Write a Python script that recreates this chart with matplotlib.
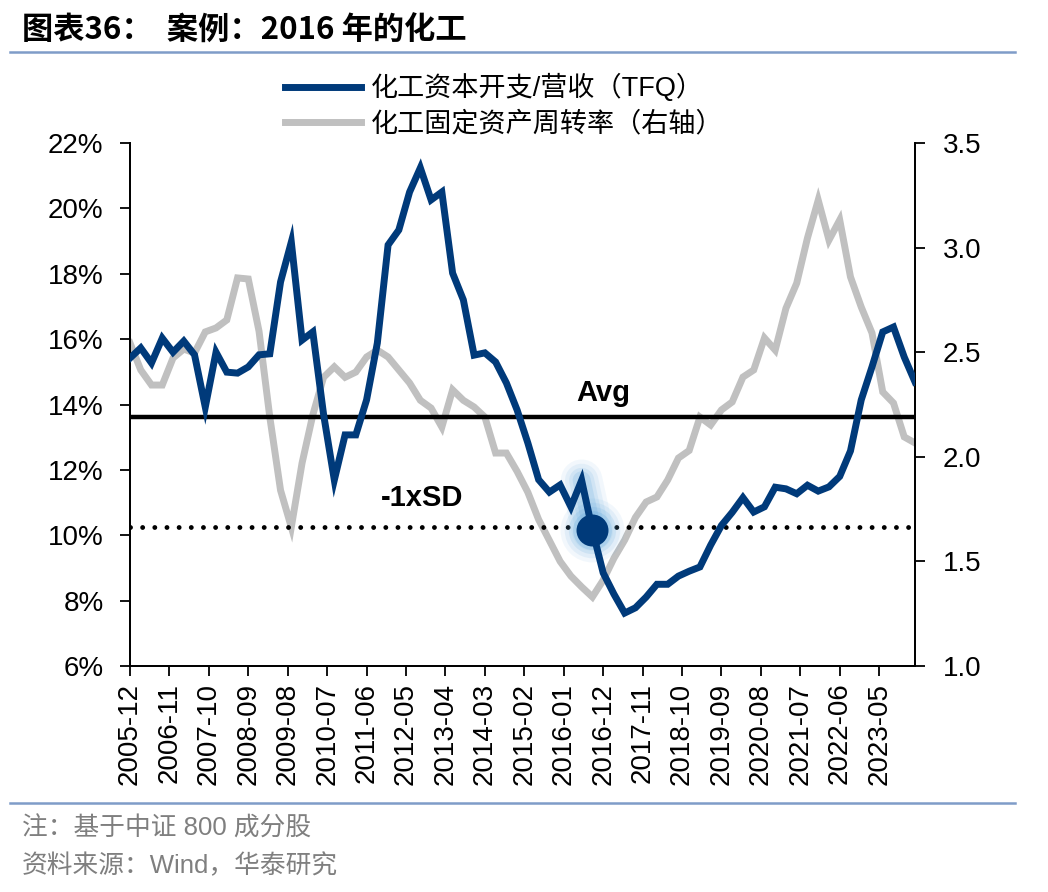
import numpy as np
import matplotlib.pyplot as plt
from matplotlib.ticker import FuncFormatter
from matplotlib.lines import Line2D

plt.rcParams['font.family'] = ['Liberation Sans', 'Noto Sans CJK SC']

# quarterly data, 2005-12 .. 2024-03
capex = [15.42, 15.73, 15.27, 16.03, 15.6, 15.94, 15.52, 13.92, 15.6, 14.99,
         14.96, 15.15, 15.52, 15.55, 17.75, 18.97, 15.97, 16.22, 13.7, 11.69,
         13.07, 13.07, 14.14, 15.88, 18.88, 19.34, 20.5, 21.24, 20.26, 20.5,
         18.02, 17.2, 15.51, 15.58, 15.3, 14.66, 13.83, 12.82, 11.7, 11.32,
         11.54, 10.87, 11.68, 10.16, 8.85, 8.2, 7.62, 7.78, 8.11, 8.5,
         8.5, 8.75, 8.9, 9.03, 9.7, 10.3, 10.7, 11.15, 10.71, 10.87,
         11.47, 11.42, 11.27, 11.53, 11.35, 11.48, 11.8, 12.58, 14.14, 15.15,
         16.22, 16.37, 15.45, 14.69]
turnover = [2.544, 2.415, 2.343, 2.343, 2.472, 2.515, 2.496, 2.597, 2.616, 2.654,
            2.855, 2.85, 2.6, 2.19, 1.84, 1.664, 1.97, 2.2, 2.38, 2.43,
            2.38, 2.405, 2.477, 2.51, 2.477, 2.415, 2.353, 2.27, 2.233, 2.142,
            2.32, 2.27, 2.238, 2.19, 2.018, 2.018, 1.93, 1.83, 1.70, 1.60,
            1.50, 1.43, 1.378, 1.33, 1.41, 1.515, 1.602, 1.71, 1.784, 1.808,
            1.889, 1.994, 2.03, 2.19, 2.152, 2.224, 2.262, 2.381, 2.415, 2.568,
            2.51, 2.71, 2.83, 3.046, 3.227, 3.036, 3.132, 2.86, 2.716, 2.592,
            2.31, 2.257, 2.095, 2.066]
avg = 13.62
minus_sd = 10.25
highlight = 43  # 2016-09

tick_labels = ['2005-12', '2006-11', '2007-10', '2008-09', '2009-08', '2010-07',
               '2011-06', '2012-05', '2013-04', '2014-03', '2015-02', '2016-01',
               '2016-12', '2017-11', '2018-10', '2019-09', '2020-08', '2021-07',
               '2022-06', '2023-05']

blue = '#003A7A'
grey = '#C0C0C0'

x = np.arange(len(capex)) * 3  # months since 2005-12
tick_pos = np.arange(len(tick_labels)) * 11

fig = plt.figure(figsize=(10.48, 8.92), dpi=100)
ax = fig.add_axes([130 / 1048, 1 - 666 / 892, 785 / 1048, 523 / 892])
ax2 = ax.twinx()

ax2.plot(x, turnover, color=grey, lw=5, solid_joinstyle='miter', zorder=2)
ax2.set_ylim(1.0, 3.5)
ax2.set_yticks(np.arange(1.0, 3.51, 0.5))
ax2.yaxis.set_major_formatter(FuncFormatter(lambda v, p: f'{v:.1f}'))

ax.set_zorder(ax2.get_zorder() + 1)
ax.patch.set_visible(False)

ax.axhline(avg, color='black', lw=3.2, zorder=3)
ax.axhline(minus_sd, xmax=0.993, color='black', lw=3.5,
           dashes=(0.001, 2.5), dash_capstyle='round', zorder=3)
ax.plot(x, capex, color=blue, lw=5, solid_joinstyle='miter', zorder=4)

# glow around the highlighted point
gx = x[highlight - 1:highlight + 1]
gy = capex[highlight - 1:highlight + 1]
for w, a in [(30, 0.08), (24, 0.10), (18, 0.13), (13, 0.18)]:
    ax.plot(gx, gy, color='#5AA5DC', lw=w, alpha=a, solid_capstyle='round', zorder=3.5)
for ms, a in [(46, 0.08), (40, 0.11), (34, 0.15), (28, 0.22)]:
    ax.plot(x[highlight], capex[highlight], 'o', ms=ms, color='#5AA5DC',
            alpha=a, mec='none', zorder=3.6)
ax.plot(x[highlight], capex[highlight], 'o', ms=23, color=blue, mec='none', zorder=5)

ax.text(132, 14.35, 'Avg', fontsize=21, fontweight='bold', ha='center', va='center')
ax.text(81.5, 11.14, '-1xSD', fontsize=21, fontweight='bold', ha='center', va='center')

ax.set_xlim(0, 219)
ax.set_ylim(6, 22)
ax.set_yticks(np.arange(6, 23, 2))
ax.yaxis.set_major_formatter(FuncFormatter(lambda v, p: f'{v:.0f}%'))
ax.set_xticks(tick_pos)
ax.set_xticklabels(tick_labels, rotation=90)

for a in (ax, ax2):
    a.spines['top'].set_visible(False)
    for s in a.spines.values():
        s.set_linewidth(1.3)
    a.tick_params(axis='both', direction='out', length=7, width=1.3,
                  labelsize=20, pad=12)
ax.tick_params(axis='x', labelsize=20, pad=5)
ax2.tick_params(axis='y', pad=13)

handles = [Line2D([], [], color=blue, lw=5),
           Line2D([], [], color=grey, lw=5)]
fig.legend(handles, ['化工资本开支/营收（TFQ）', '化工固定资产周转率（右轴）'],
           loc='upper left', bbox_to_anchor=(285 / 1048, 1 - 74 / 892),
           frameon=False, fontsize=19.5, handlelength=2.8, handletextpad=0.38,
           labelspacing=0.33, borderpad=0, borderaxespad=0)

fig.text(22 / 1048, 1 - 31 / 892, '图表36：  案例：2016 年的化工', fontsize=22.5,
         fontweight='bold', family=['Noto Sans CJK SC'], va='center')
fig.add_artist(Line2D([10 / 1048, 1015 / 1048], [1 - 52 / 892] * 2,
                      color='#7F9CC8', lw=1.8))
fig.add_artist(Line2D([10 / 1048, 1015 / 1048], [1 - 803 / 892] * 2,
                      color='#7F9CC8', lw=1.8))
fig.text(22 / 1048, 1 - 829 / 892, '注：基于中证 800 成分股', fontsize=18.5,
         color='#7F7F7F', va='center')
fig.text(22 / 1048, 1 - 866 / 892, '资料来源：Wind，华泰研究', fontsize=18.5,
         color='#7F7F7F', va='center')

fig.savefig('out.png', dpi=100)
